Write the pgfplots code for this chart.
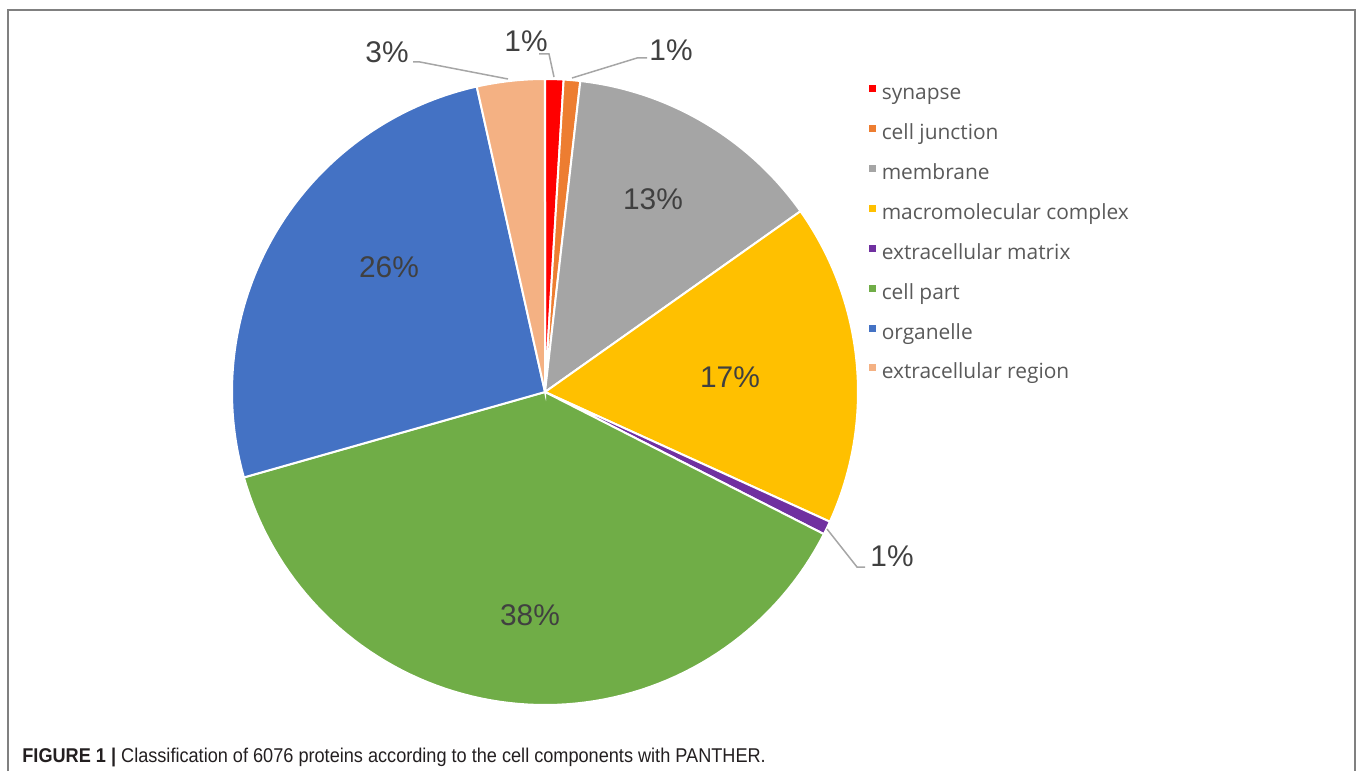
\documentclass[border=0pt]{standalone}
\usepackage{pgfplots}
\pgfplotsset{compat=1.18}
\usepackage{fontspec}
\setmainfont{Liberation Sans}
\newfontfamily\legfont{Open Sans}
\newfontfamily\capfont[FakeStretch=0.91]{Liberation Sans}
\definecolor{cSyn}{HTML}{FF0000}
\definecolor{cJun}{HTML}{ED7D31}
\definecolor{cMem}{HTML}{A5A5A5}
\definecolor{cMac}{HTML}{FFC000}
\definecolor{cEcm}{HTML}{7030A0}
\definecolor{cPart}{HTML}{70AD47}
\definecolor{cOrg}{HTML}{4472C4}
\definecolor{cReg}{HTML}{F4B183}
\definecolor{lbl}{HTML}{404040}
\definecolor{legtxt}{HTML}{595959}
\definecolor{leader}{HTML}{A6A6A6}
\definecolor{framec}{HTML}{808080}
% shares (percent): synapse 0.95, cell junction 0.85, membrane 13.4,
% macromolecular complex 16.6, extracellular matrix 0.7, cell part 38.1,
% organelle 25.9, extracellular region 3.5  (cumulative angles below = 3.6 x cumulative %)
\newcommand\slice[3]{\addplot[fill=#3, draw=white, line width=1bp, domain=#1:#2, samples=80, variable=\t]
  ({545+313*sin(\t)},{392-313*cos(\t)}) -- (axis cs:545,392) -- cycle;}
\begin{document}
\begin{tikzpicture}
\begin{axis}[
  scale only axis, width=678.5bp, height=385.5bp,
  xmin=0, xmax=1357, ymin=0, ymax=771, y dir=reverse,
  hide axis, clip=false,
  legend cell align=left,
  legend image code/.code={\fill[#1] (0bp,0.5bp) rectangle (4.2bp,5bp);},
  legend style={at={(axis cs:861,233.5)}, anchor=west, draw=none, fill=none,
    font=\legfont\fontsize{10.5}{12}\selectfont, text=legtxt,
    row sep=9.2bp,
    nodes={text height=8bp, text depth=2.5bp, inner ysep=0pt, inner xsep=2bp}},
]
\addplot[draw=none, forget plot] coordinates {(0,0) (1357,771)};
\slice{0}{3.42}{cSyn}\addlegendentry{synapse}
\slice{3.42}{6.48}{cJun}\addlegendentry{cell junction}
\slice{6.48}{54.72}{cMem}\addlegendentry{membrane}
\slice{54.72}{114.48}{cMac}\addlegendentry{macromolecular complex}
\slice{114.48}{117.0}{cEcm}\addlegendentry{extracellular matrix}
\slice{117.0}{254.16}{cPart}\addlegendentry{cell part}
\slice{254.16}{347.4}{cOrg}\addlegendentry{organelle}
\slice{347.4}{360}{cReg}\addlegendentry{extracellular region}
% leader lines
\addplot[leader, line width=0.75bp, forget plot] coordinates {(413,62) (420,62) (508,79)};
\addplot[leader, line width=0.75bp, forget plot] coordinates {(539,54) (549,54) (554,77)};
\addplot[leader, line width=0.75bp, forget plot] coordinates {(572,78) (637,58) (647,58)};
\addplot[leader, line width=0.75bp, forget plot] coordinates {(827,529) (857,567) (865,567)};
% frame
\addplot[framec, line width=1bp, forget plot] coordinates {(8,771) (8,10) (1355,10) (1355,771)};
% labels
\begin{scope}[every node/.style={inner sep=0pt, text=lbl, font=\fontsize{15}{18}\selectfont}]
\node at (axis cs:526,41) {1\%};
\node at (axis cs:671,50) {1\%};
\node at (axis cs:387,52) {3\%};
\node[anchor=west] at (axis cs:870,556) {1\%};
\node at (axis cs:653,199) {13\%};
\node at (axis cs:730,377) {17\%};
\node at (axis cs:389,267) {26\%};
\node at (axis cs:530,615) {38\%};
\end{scope}
\node[anchor=base west, inner sep=0pt, text={rgb,255:red,35;green,31;blue,32}] at (axis cs:22,762)
  {\capfont\fontsize{10}{12}\selectfont\textbf{FIGURE 1 |} Classification of 6076 proteins according to the cell components with PANTHER.};
\end{axis}
\end{tikzpicture}
\end{document}
